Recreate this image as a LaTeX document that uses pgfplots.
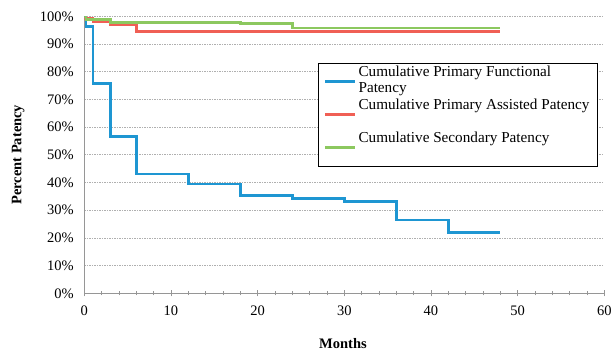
\documentclass[border=0pt]{standalone}
\usepackage{pgfplots}
\pgfplotsset{compat=1.18}
\usepackage{fontspec}
\setmainfont{Liberation Serif}
\definecolor{cblue}{RGB}{30,150,210}
\definecolor{cred}{RGB}{240,95,85}
\definecolor{cgreen}{RGB}{140,200,95}
\definecolor{cgrid}{RGB}{175,175,175}
\definecolor{caxis}{RGB}{150,150,150}
\begin{document}
\begin{tikzpicture}
\begin{axis}[
  at={(0,0)}, anchor=south west,
  scale only axis, width=520bp, height=277bp,
  xmin=0, xmax=60, ymin=0, ymax=100,
  axis x line=bottom, axis y line=left,
  axis line style={-, caxis, line width=0.8bp},
  xtick={0,10,20,30,40,50,60},
  xticklabels={0,10,20,30,40,50,60},
  minor x tick num=4,
  ytick={0,10,20,30,40,50,60,70,80,90,100},
  yticklabels={0\%,10\%,20\%,30\%,40\%,50\%,60\%,70\%,80\%,90\%,100\%},
  ymajorgrids,
  grid style={cgrid, dashed, dash pattern=on 1.5bp off 1bp, line width=0.6bp},
  y tick style={draw=none},
  x tick style={caxis, line width=0.8bp},
  tick align=center,
  major tick length=6bp, minor tick length=4bp,
  tick label style={font=\fontsize{14.5bp}{17bp}\selectfont},
  xticklabel style={yshift=-6bp},
  yticklabel style={xshift=-4bp},
  xlabel={\textbf{Months}},
  ylabel={\textbf{Percent Patency}},
  label style={font=\fontsize{14.5bp}{17bp}\selectfont},
  xlabel style={at={(axis description cs:0.4975,-0.18)}, anchor=center},
  ylabel style={at={(axis description cs:-0.127,0.5)}, anchor=center},
  legend style={at={(axis description cs:0.449,0.8325)}, anchor=north west,
    draw=black, line width=0.8bp, inner xsep=6bp, inner ysep=2bp,
    font=\fontsize{15.2bp}{16bp}\selectfont,
    nodes={text depth=, text height=, inner ysep=0.5bp},
    /tikz/every even column/.append style={column sep=2bp}},
  legend cell align=left,
  legend image code/.code={\draw[#1, line width=2.4bp] (0bp,0bp) -- (30bp,0bp);},
]
\addplot[cblue, const plot, line width=2.6bp] coordinates {
 (0,100) (0.2,96.4) (1,75.8) (3,56.5) (6,43) (12,39.4) (18,35.2) (24,34.3) (30,33.1) (36,26.4) (42,21.9) (48,21.9)};
\addlegendentry{\begin{tabular}[t]{@{}l@{}}Cumulative Primary Functional\\Patency\end{tabular}}
\addplot[cred, const plot, line width=2.6bp] coordinates {
 (0,99.2) (1,98.2) (3,97) (6,94.6) (48,94.6)};
\addlegendentry{\begin{tabular}[t]{@{}l@{}}Cumulative Primary Assisted Patency\\ \strut\end{tabular}}
\addplot[cgreen, const plot, line width=2.6bp] coordinates {
 (0,100) (0.2,98.8) (3,97.8) (18,97.3) (24,95.8) (48,95.8)};
\addlegendentry{\begin{tabular}[t]{@{}l@{}}Cumulative Secondary Patency\\ \strut\end{tabular}}
\end{axis}
\pgfresetboundingbox
\path (-84.3bp,-56.7bp) rectangle (527.7bp,293.3bp);
\end{tikzpicture}
\end{document}
